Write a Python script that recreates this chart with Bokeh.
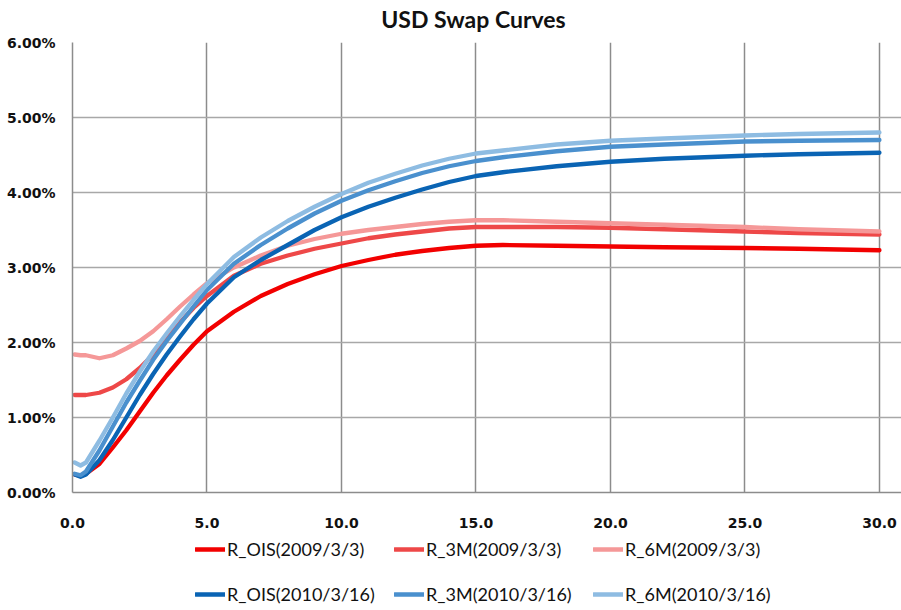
from bokeh.plotting import figure
from bokeh.models import Legend, LegendItem, FixedTicker, PrintfTickFormatter, Range1d, Label
from bokeh.layouts import column
from bokeh.embed import file_html
from bokeh.resources import INLINE

# Tenor (years)
tenor = [0.08, 0.3, 0.5, 1, 1.5, 2, 2.5, 3, 3.5, 4, 4.5, 5, 6, 7, 8, 9, 10,
         11, 12, 13, 14, 15, 16, 18, 20, 22, 25, 27, 30]

# Swap rates (%)
r_ois_2009 = [0.24, 0.22, 0.25, 0.38, 0.60, 0.83, 1.08, 1.33, 1.56, 1.77, 1.97, 2.15, 2.41, 2.62, 2.78,
              2.91, 3.02, 3.10, 3.17, 3.22, 3.26, 3.29, 3.30, 3.29, 3.28, 3.27, 3.26, 3.25, 3.23]
r_3m_2009 = [1.30, 1.30, 1.30, 1.33, 1.40, 1.51, 1.66, 1.84, 2.05, 2.27, 2.46, 2.62, 2.89, 3.05, 3.16,
             3.25, 3.32, 3.39, 3.44, 3.48, 3.52, 3.54, 3.54, 3.54, 3.53, 3.51, 3.48, 3.46, 3.44]
r_6m_2009 = [1.84, 1.83, 1.83, 1.79, 1.83, 1.92, 2.02, 2.15, 2.31, 2.48, 2.64, 2.79, 3.00, 3.16, 3.29,
             3.38, 3.45, 3.50, 3.54, 3.58, 3.61, 3.63, 3.63, 3.61, 3.59, 3.57, 3.54, 3.51, 3.48]
r_ois_2010 = [0.24, 0.21, 0.24, 0.43, 0.70, 1.00, 1.30, 1.58, 1.84, 2.08, 2.31, 2.52, 2.87, 3.10, 3.30,
              3.50, 3.67, 3.81, 3.93, 4.04, 4.14, 4.22, 4.27, 4.35, 4.41, 4.45, 4.49, 4.51, 4.53]
r_3m_2010 = [0.25, 0.23, 0.28, 0.56, 0.88, 1.20, 1.49, 1.77, 2.02, 2.25, 2.48, 2.70, 3.05, 3.30, 3.52,
             3.72, 3.89, 4.03, 4.15, 4.26, 4.35, 4.42, 4.47, 4.55, 4.61, 4.64, 4.68, 4.69, 4.70]
r_6m_2010 = [0.40, 0.36, 0.40, 0.69, 1.00, 1.32, 1.61, 1.88, 2.12, 2.35, 2.57, 2.78, 3.14, 3.40, 3.62,
             3.81, 3.98, 4.13, 4.25, 4.36, 4.45, 4.52, 4.56, 4.64, 4.69, 4.72, 4.76, 4.78, 4.80]

series_names = ["R_OIS(2009/3/3)", "R_3M(2009/3/3)", "R_6M(2009/3/3)",
                "R_OIS(2010/3/16)", "R_3M(2010/3/16)", "R_6M(2010/3/16)"]
series_values = [r_ois_2009, r_3m_2009, r_6m_2009, r_ois_2010, r_3m_2010, r_6m_2010]
series_colors = ["#F20000", "#EE4848", "#F59898", "#0A64B4", "#4A90CE", "#8EBCE2"]

title_text = "USD Swap Curves"
x_ticks = [0, 5, 10, 15, 20, 25, 30]
y_ticks = [0, 1, 2, 3, 4, 5, 6]


def bare_strip(h, xr, yr):
    f = figure(width=901, height=h, x_range=Range1d(*xr), y_range=Range1d(*yr),
               x_axis_type=None, y_axis_type=None,
               output_backend="svg", toolbar_location=None, min_border=0)
    f.outline_line_color = None
    f.xgrid.visible = False
    f.ygrid.visible = False
    f.background_fill_color = "white"
    f.border_fill_color = "white"
    return f


# ---------------- title strip (pixel-unit ranges) ----------------
ttl = bare_strip(34, (0, 829), (0, 34))
ttl.add_layout(Label(x=401, y=15.5, text=title_text, text_align="center",
                     text_baseline="middle", text_font="Lato",
                     text_font_size="23px", text_font_style="bold",
                     text_color="#111111"))

# ---------------- main chart ----------------
p = figure(frame_width=829, frame_height=450,
           x_range=Range1d(0, 30.82), y_range=Range1d(0, 6),
           output_backend="svg", toolbar_location=None,
           min_border_left=72, min_border_right=0,
           min_border_top=8, min_border_bottom=42)

p.outline_line_color = None
p.background_fill_color = "white"
p.border_fill_color = "white"

p.xaxis.ticker = FixedTicker(ticks=x_ticks)
p.yaxis.ticker = FixedTicker(ticks=y_ticks)
p.xaxis.formatter = PrintfTickFormatter(format="%.1f")
p.yaxis.formatter = PrintfTickFormatter(format="%.2f%%")

for ax in (p.xaxis[0], p.yaxis[0]):
    ax.axis_line_color = "#8c8c8c"
    ax.axis_line_width = 1.5
    ax.major_tick_line_color = None
    ax.minor_tick_line_color = None
    ax.major_tick_out = 0
    ax.major_tick_in = 0
    ax.minor_tick_out = 0
    ax.minor_tick_in = 0
    ax.major_label_text_font = "DejaVu Sans"
    ax.major_label_text_font_style = "bold"
    ax.major_label_text_font_size = "14px"
    ax.major_label_text_color = "#111111"

p.yaxis.major_label_standoff = 17
p.xaxis.major_label_standoff = 25

p.xgrid.grid_line_color = "#8c8c8c"
p.xgrid.grid_line_width = 1.5
p.ygrid.grid_line_color = "#a8a8a8"
p.ygrid.grid_line_width = 1.5

for name, vals, col in zip(series_names, series_values, series_colors):
    p.line(tenor, vals, line_color=col, line_width=4.3,
           line_join="round", line_cap="round")

# ---------------- legend strip ----------------
leg = bare_strip(76, (0, 1), (0, 1))

items = []
for name, col in zip(series_names, series_colors):
    # proxy line kept outside the visible range; it only supplies the legend swatch
    r = leg.line([5, 6], [5, 6], line_color=col, line_width=4.3, line_cap="round")
    items.append(LegendItem(label=name, renderers=[r]))


def make_legend(its, loc):
    return Legend(items=its, orientation="horizontal", location=loc,
                  glyph_width=30, glyph_height=20, label_height=20,
                  label_width=167, label_standoff=2, spacing=0,
                  padding=0, margin=0,
                  border_line_color=None, background_fill_alpha=0,
                  label_text_font="Lato", label_text_font_size="18px",
                  label_text_color="#111111")


leg.add_layout(make_legend(items[:3], (123, 50)), "center")
leg.add_layout(make_legend(items[3:], (123, 5)), "center")

layout = column(ttl, p, leg, spacing=0)

open("out.html", "w").write(file_html(layout, INLINE))
